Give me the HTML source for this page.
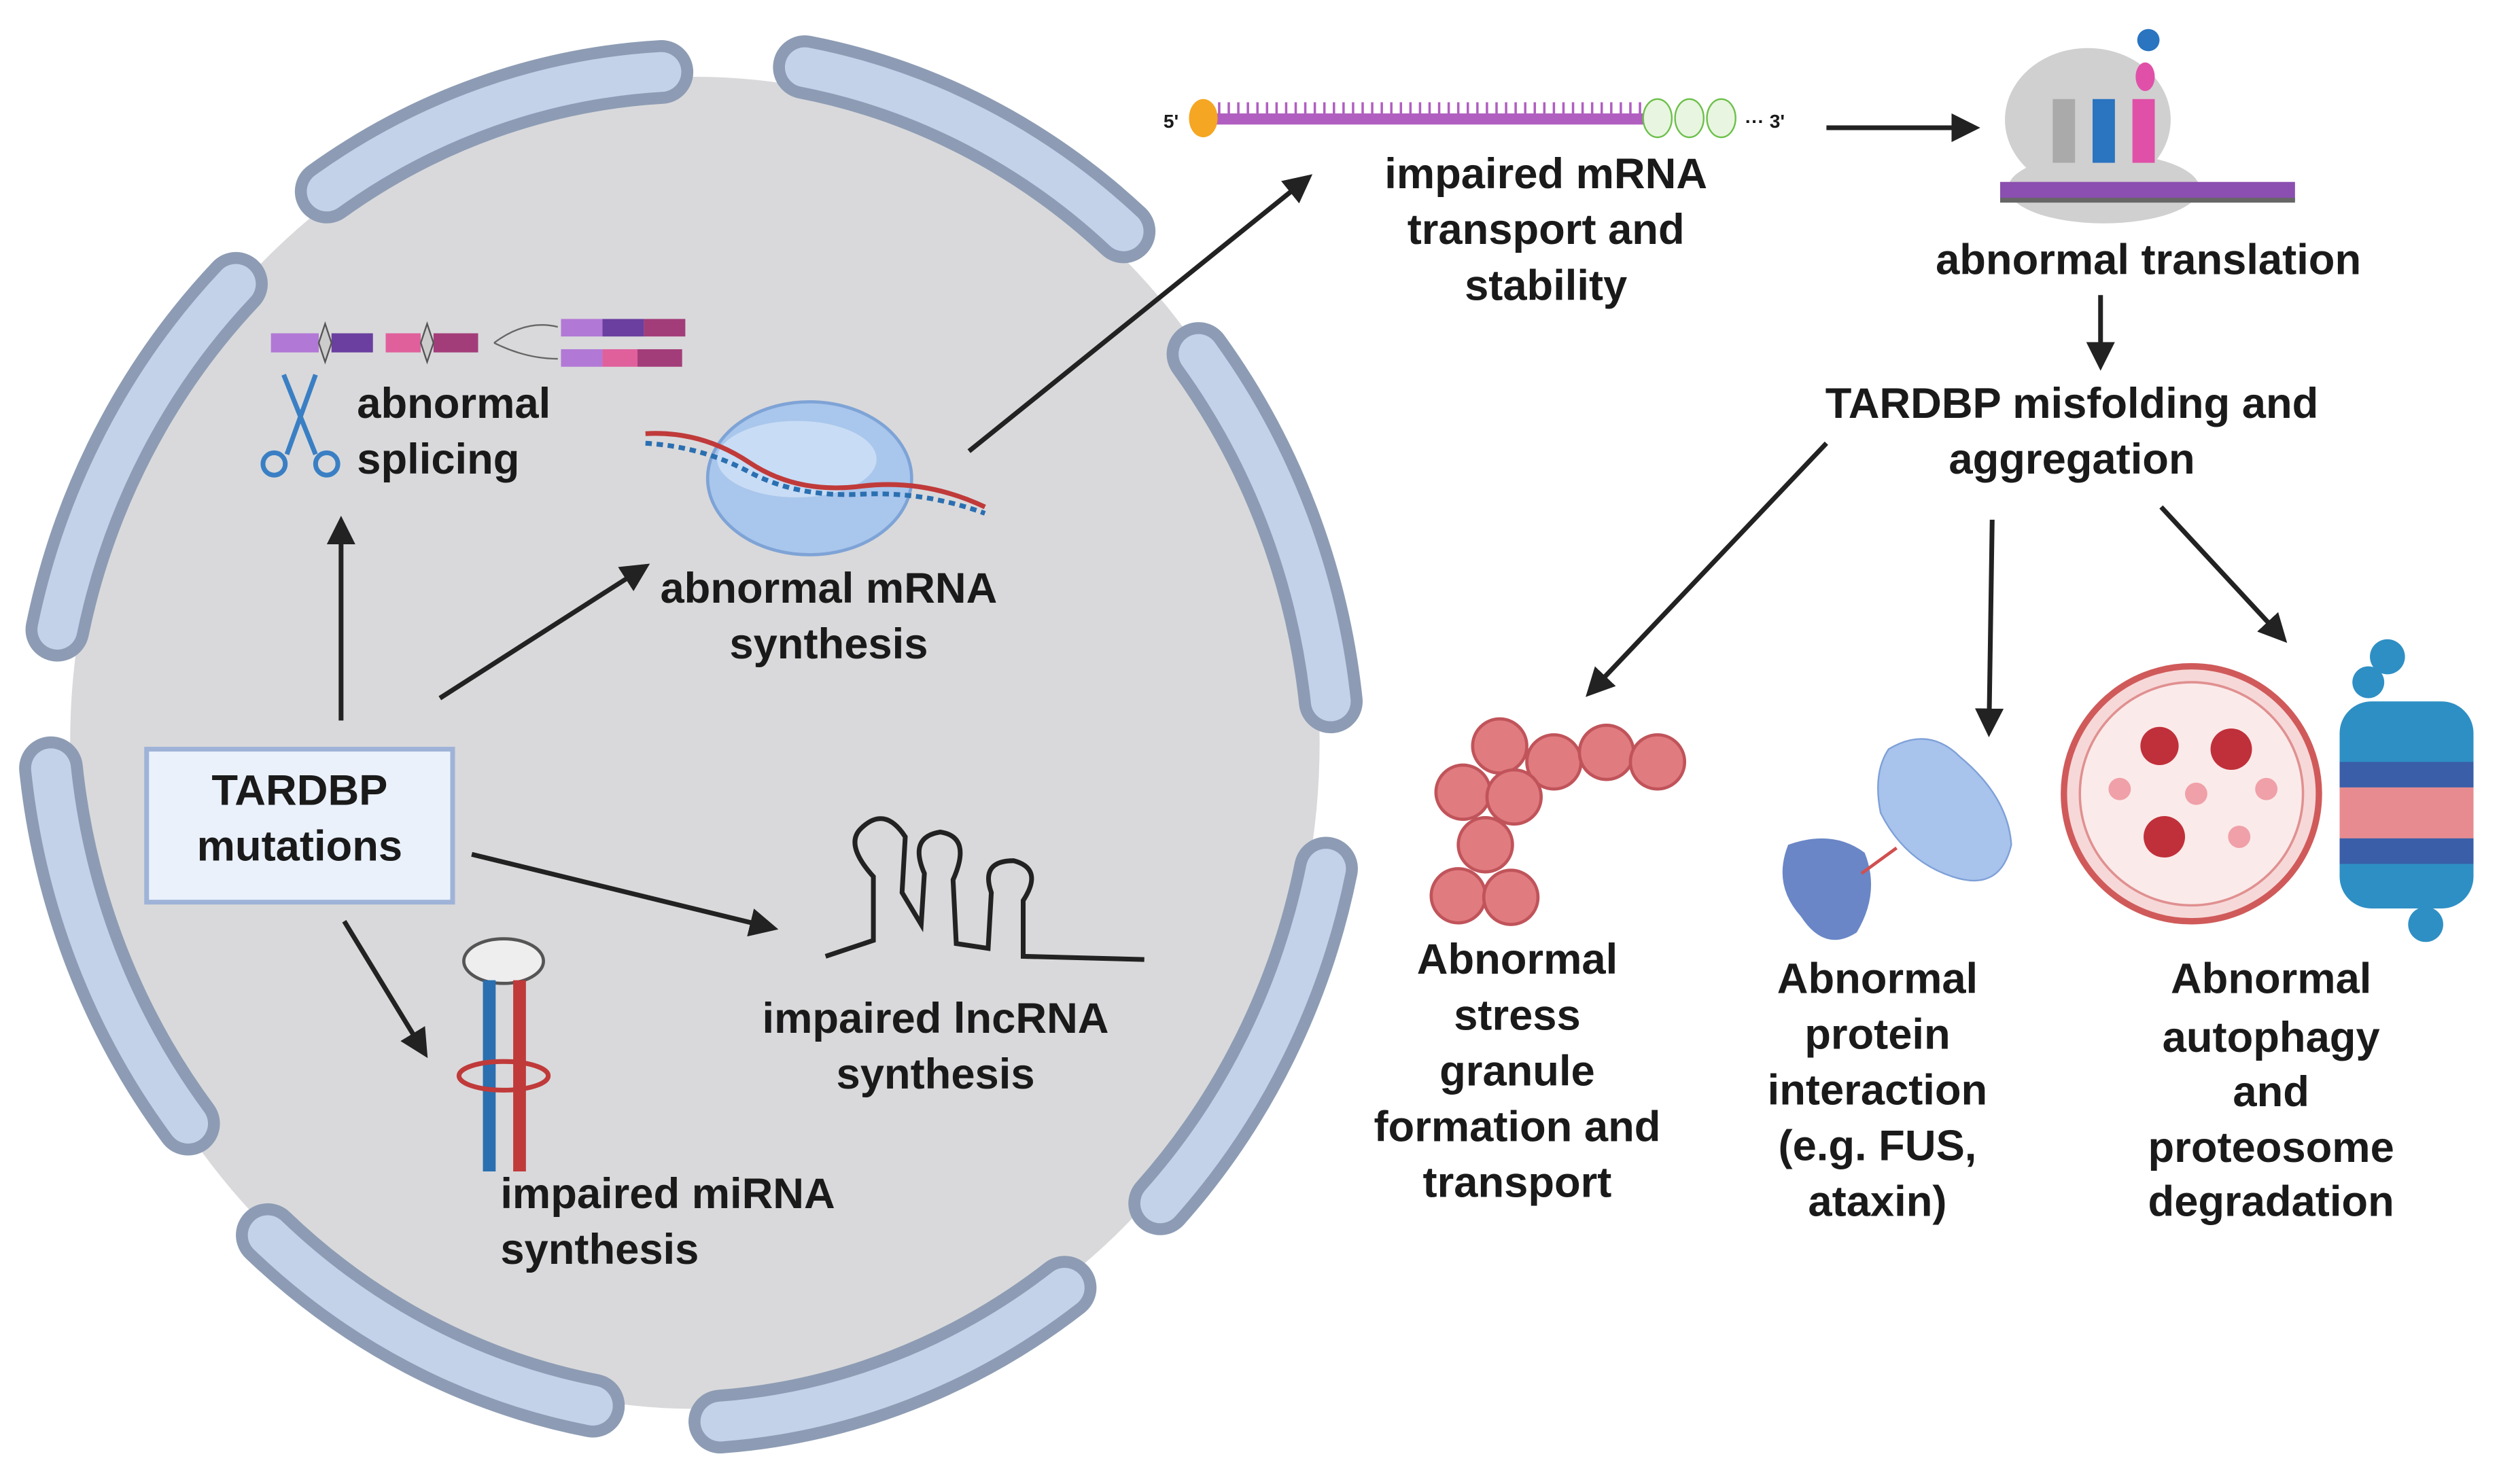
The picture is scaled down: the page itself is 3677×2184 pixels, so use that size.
<!DOCTYPE html>
<html><head><style>
html,body{margin:0;padding:0;background:#fff;}
svg{display:block;}
text{font-family:"Liberation Sans",sans-serif;font-weight:bold;fill:#1a1a1a;}
</style></head><body>
<svg width="3677" height="2184" viewBox="0 0 1568 931" xmlns="http://www.w3.org/2000/svg">
<defs>
<marker id="ah" markerWidth="6" markerHeight="6" refX="4.5" refY="3" orient="auto" markerUnits="strokeWidth">
<path d="M0,0 L6,3 L0,6 Z" fill="#222"/></marker>
</defs>
<rect width="1568" height="931" fill="#fff"/>
<ellipse cx="436" cy="466" rx="392" ry="418" fill="#d9d9db"/>
<g fill="none" stroke-linecap="round">
<g stroke="#8d9cb4" stroke-width="40">
<path d="M205,120 A415 440 0 0 1 415,45"/>
<path d="M505,42 A415 440 0 0 1 705,145"/>
<path d="M752,222 A415 440 0 0 1 835,440"/>
<path d="M832,545 A415 440 0 0 1 728,755"/>
<path d="M668,808 A415 440 0 0 1 452,892"/>
<path d="M372,882 A415 440 0 0 1 168,775"/>
<path d="M118,705 A415 440 0 0 1 32,482"/>
<path d="M36,395 A415 440 0 0 1 148,178"/>
</g>
<g stroke="#c4d2e9" stroke-width="25">
<path d="M205,120 A415 440 0 0 1 415,45"/>
<path d="M505,42 A415 440 0 0 1 705,145"/>
<path d="M752,222 A415 440 0 0 1 835,440"/>
<path d="M832,545 A415 440 0 0 1 728,755"/>
<path d="M668,808 A415 440 0 0 1 452,892"/>
<path d="M372,882 A415 440 0 0 1 168,775"/>
<path d="M118,705 A415 440 0 0 1 32,482"/>
<path d="M36,395 A415 440 0 0 1 148,178"/>
</g>
</g>
<rect x="92" y="470" width="192" height="96" fill="#eaf1fb" stroke="#9fb3d8" stroke-width="3"/>
<text x="188" y="505" font-size="27" text-anchor="middle">TARDBP</text>
<text x="188" y="540" font-size="27" text-anchor="middle">mutations</text>
<g stroke="#222" stroke-width="3" fill="none" marker-end="url(#ah)">
<line x1="214" y1="452" x2="214" y2="328"/>
<line x1="276" y1="438" x2="404" y2="356"/>
<line x1="296" y1="536" x2="484" y2="582"/>
<line x1="216" y1="578" x2="266" y2="660"/>
<line x1="608" y1="283" x2="820" y2="112"/>
<line x1="1146" y1="80" x2="1238" y2="80"/>
<line x1="1318" y1="185" x2="1318" y2="228"/>
<line x1="1146" y1="278" x2="998" y2="434"/>
<line x1="1250" y1="326" x2="1248" y2="458"/>
<line x1="1356" y1="318" x2="1432" y2="400"/>
</g>
<g>
<rect x="170" y="209" width="30" height="12" fill="#b278d6"/>
<rect x="208" y="209" width="26" height="12" fill="#6a3fa0"/>
<rect x="242" y="209" width="22" height="12" fill="#e0609c"/>
<rect x="272" y="209" width="28" height="12" fill="#a33d79"/>
<path d="M200,215 L204,203 L208,215 L204,227 Z M264,215 L268,203 L272,215 L268,227Z" fill="#ccc" stroke="#555"/>
<path d="M310,215 Q330,200 350,205 M310,215 Q330,225 350,225" stroke="#666" fill="none"/>
<rect x="352" y="200" width="26" height="11" fill="#b278d6"/><rect x="378" y="200" width="26" height="11" fill="#6a3fa0"/><rect x="404" y="200" width="26" height="11" fill="#a33d79"/>
<rect x="352" y="219" width="26" height="11" fill="#b278d6"/><rect x="378" y="219" width="22" height="11" fill="#e0609c"/><rect x="400" y="219" width="28" height="11" fill="#a33d79"/>
<g stroke="#3a7fc4" stroke-width="3" fill="none"><line x1="178" y1="235" x2="198" y2="285"/><line x1="198" y1="235" x2="180" y2="285"/><circle cx="172" cy="291" r="7"/><circle cx="205" cy="291" r="7"/></g>
</g>
<text x="224" y="262" font-size="27">abnormal</text>
<text x="224" y="297" font-size="27">splicing</text>
<ellipse cx="508" cy="300" rx="64" ry="48" fill="#a9c6ec" stroke="#7ea3d6" stroke-width="2"/>
<ellipse cx="500" cy="288" rx="50" ry="24" fill="#c8dcf5"/>
<path d="M405,272 Q440,270 470,290 T540,305 T618,318" stroke="#c03a3a" stroke-width="3" fill="none"/>
<path d="M405,278 Q440,280 470,296 T540,310 T618,322" stroke="#2a6fb0" stroke-width="3" fill="none" stroke-dasharray="4 3"/>
<text x="520" y="378" font-size="27" text-anchor="middle">abnormal mRNA</text>
<text x="520" y="413" font-size="27" text-anchor="middle">synthesis</text>
<g stroke="#222" stroke-width="3" fill="none">
<path d="M518,600 L548,590 L548,550 Q530,530 540,520 Q555,505 568,525 L566,560 L578,580 L580,548 Q570,525 590,522 Q610,525 598,552 L600,592 L620,595 L622,560 Q615,540 636,540 Q655,545 642,565 L642,600 L718,602"/>
</g>
<text x="587" y="648" font-size="27" text-anchor="middle">impaired lncRNA</text>
<text x="587" y="683" font-size="27" text-anchor="middle">synthesis</text>
<ellipse cx="316" cy="603" rx="25" ry="14" fill="#eee" stroke="#555" stroke-width="2"/>
<rect x="303" y="615" width="8" height="120" fill="#2a6fb0"/>
<rect x="322" y="615" width="8" height="120" fill="#c03a3a"/>
<ellipse cx="316" cy="675" rx="28" ry="9" fill="none" stroke="#c03a3a" stroke-width="3"/>
<text x="314" y="758" font-size="27">impaired miRNA</text>
<text x="314" y="793" font-size="27">synthesis</text>
<text x="730" y="80" font-size="12" font-weight="normal">5'</text>
<rect x="760" y="71" width="275" height="7" fill="#b05fc0"/>
<g stroke="#b05fc0" stroke-width="1.5">
<path d="M765,64V72M771,64V72M777,64V72M783,64V72M789,64V72M795,64V72M801,64V72M807,64V72M813,64V72M819,64V72M825,64V72M831,64V72M837,64V72M843,64V72M849,64V72M855,64V72M861,64V72M867,64V72M873,64V72M879,64V72M885,64V72M891,64V72M897,64V72M903,64V72M909,64V72M915,64V72M921,64V72M927,64V72M933,64V72M939,64V72M945,64V72M951,64V72M957,64V72M963,64V72M969,64V72M975,64V72M981,64V72M987,64V72M993,64V72M999,64V72M1005,64V72M1011,64V72M1017,64V72M1023,64V72M1029,64V72"/>
</g>
<ellipse cx="755" cy="74" rx="9" ry="12" fill="#f5a623"/>
<g fill="#e8f5e0" stroke="#6cc04a"><ellipse cx="1040" cy="74" rx="9" ry="12"/><ellipse cx="1060" cy="74" rx="9" ry="12"/><ellipse cx="1080" cy="74" rx="9" ry="12"/></g>
<text x="1095" y="80" font-size="12" font-weight="normal">··· 3'</text>
<text x="970" y="118" font-size="27" text-anchor="middle">impaired mRNA</text>
<text x="970" y="153" font-size="27" text-anchor="middle">transport and</text>
<text x="970" y="188" font-size="27" text-anchor="middle">stability</text>
<ellipse cx="1310" cy="75" rx="52" ry="45" fill="#d0d0d0"/>
<ellipse cx="1320" cy="118" rx="60" ry="22" fill="#d0d0d0"/>
<rect x="1288" y="62" width="14" height="40" fill="#aaa"/>
<rect x="1313" y="62" width="14" height="40" fill="#2a74c0"/>
<rect x="1338" y="62" width="14" height="40" fill="#e050a8"/>
<ellipse cx="1346" cy="48" rx="6" ry="9" fill="#e050a8"/>
<circle cx="1348" cy="25" r="7" fill="#2a74c0"/>
<rect x="1255" y="114" width="185" height="12" fill="#8a4fb0"/>
<rect x="1255" y="124" width="185" height="3" fill="#666"/>
<text x="1348" y="172" font-size="27" text-anchor="middle">abnormal translation</text>
<text x="1300" y="262" font-size="27" text-anchor="middle">TARDBP misfolding and</text>
<text x="1300" y="297" font-size="27" text-anchor="middle">aggregation</text>
<g fill="#e07b80" stroke="#c0545a" stroke-width="2">
<circle cx="941" cy="468" r="17"/><circle cx="975" cy="478" r="17"/><circle cx="1008" cy="472" r="17"/><circle cx="1040" cy="478" r="17"/>
<circle cx="918" cy="497" r="17"/><circle cx="950" cy="500" r="17"/><circle cx="932" cy="530" r="17"/><circle cx="915" cy="562" r="17"/><circle cx="948" cy="563" r="17"/>
</g>
<text x="952" y="611" font-size="27" text-anchor="middle">Abnormal</text>
<text x="952" y="646" font-size="27" text-anchor="middle">stress</text>
<text x="952" y="681" font-size="27" text-anchor="middle">granule</text>
<text x="952" y="716" font-size="27" text-anchor="middle">formation and</text>
<text x="952" y="751" font-size="27" text-anchor="middle">transport</text>
<path d="M1185,470 Q1210,455 1230,475 Q1260,500 1262,530 Q1255,560 1225,550 Q1195,540 1180,510 Q1175,485 1185,470Z" fill="#a8c3ec" stroke="#7ea0d8"/>
<path d="M1122,530 Q1150,520 1170,535 Q1180,560 1165,585 Q1145,598 1130,575 Q1112,555 1122,530Z" fill="#6a86c6"/>
<line x1="1168" y1="548" x2="1190" y2="532" stroke="#d05050" stroke-width="2"/>
<text x="1178" y="623" font-size="27" text-anchor="middle">Abnormal</text>
<text x="1178" y="658" font-size="27" text-anchor="middle">protein</text>
<text x="1178" y="693" font-size="27" text-anchor="middle">interaction</text>
<text x="1178" y="728" font-size="27" text-anchor="middle">(e.g. FUS,</text>
<text x="1178" y="763" font-size="27" text-anchor="middle">ataxin)</text>
<circle cx="1375" cy="498" r="80" fill="#f7d8d8" stroke="#d05a5a" stroke-width="4"/>
<circle cx="1375" cy="498" r="70" fill="#fbeaea" stroke="#e09090" stroke-width="1.5"/>
<g fill="#c0303a"><circle cx="1355" cy="468" r="12"/><circle cx="1400" cy="470" r="13"/><circle cx="1358" cy="525" r="13"/></g>
<g fill="#f0a0a8"><circle cx="1330" cy="495" r="7"/><circle cx="1378" cy="498" r="7"/><circle cx="1422" cy="495" r="7"/><circle cx="1405" cy="525" r="7"/></g>
<g>
<rect x="1468" y="440" width="84" height="130" rx="20" fill="#2e8fc4"/>
<rect x="1468" y="478" width="84" height="16" fill="#3a5ea8"/>
<rect x="1468" y="494" width="84" height="32" fill="#e88b90"/>
<rect x="1468" y="526" width="84" height="16" fill="#3a5ea8"/>
<circle cx="1498" cy="412" r="11" fill="#2e8fc4"/><circle cx="1486" cy="428" r="10" fill="#2e8fc4"/>
<circle cx="1522" cy="580" r="11" fill="#2e8fc4"/>
</g>
<text x="1425" y="623" font-size="27" text-anchor="middle">Abnormal</text>
<text x="1425" y="660" font-size="27" text-anchor="middle">autophagy</text>
<text x="1425" y="694" font-size="27" text-anchor="middle">and</text>
<text x="1425" y="729" font-size="27" text-anchor="middle">proteosome</text>
<text x="1425" y="763" font-size="27" text-anchor="middle">degradation</text>
</svg>
</body></html>
